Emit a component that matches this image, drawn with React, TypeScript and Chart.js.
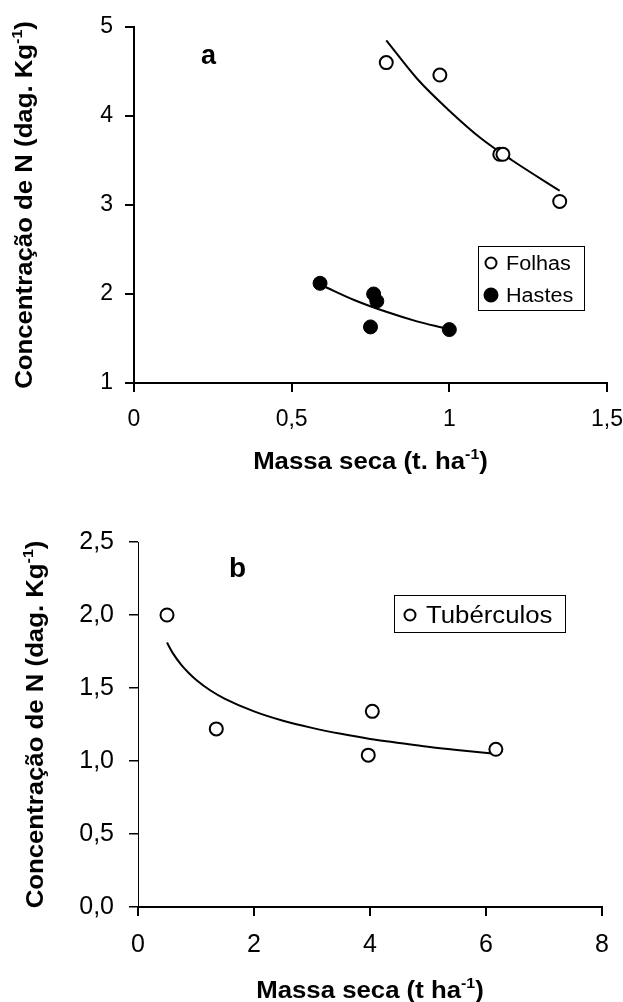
import React, { useEffect, useRef } from 'react';
import { Chart, registerables } from 'chart.js';

Chart.register(...registerables);

// ---------- Panel a data ----------
const folhasX = [0.80, 0.97, 1.16, 1.17, 1.35];
const folhasY = [4.60, 4.46, 3.57, 3.57, 3.04];
const hastesX = [0.59, 0.76, 0.77, 0.75, 1.00];
const hastesY = [2.12, 2.00, 1.92, 1.63, 1.60];
const folhasFitX = [0.80, 0.90, 1.00, 1.10, 1.20, 1.35];
const folhasFitY = [4.85, 4.41, 4.06, 3.75, 3.50, 3.16];
const hastesFitX = [0.60, 0.70, 0.80, 0.90, 0.98];
const hastesFitY = [2.09, 1.93, 1.80, 1.69, 1.62];
const aXTicks = [0, 0.5, 1, 1.5];
const aYTicks = [1, 2, 3, 4, 5];

// ---------- Panel b data ----------
const tuberX = [0.50, 1.35, 4.04, 3.97, 6.17];
const tuberY = [2.00, 1.22, 1.34, 1.04, 1.08];
const tuberFitX = [0.50, 0.60, 0.75, 0.875, 1.00, 1.25, 1.50, 2.00, 2.50, 3.00, 3.50, 4.00, 4.50, 5.00, 5.50, 6.15];
const tuberFitY = [1.811, 1.739, 1.657, 1.603, 1.557, 1.483, 1.426, 1.340, 1.276, 1.227, 1.186, 1.151, 1.124, 1.098, 1.076, 1.050];
const bXTicks = [0, 2, 4, 6, 8];
const bYTicks = [0, 0.5, 1, 1.5, 2, 2.5];

const FONT = "'Liberation Sans', Arial, Helvetica, sans-serif";
Chart.defaults.font.family = FONT;
Chart.defaults.color = '#000';

const pts = (xs: number[], ys: number[]) => xs.map((x, i) => ({ x, y: ys[i] }));
const comma = (v: number) => String(v).replace('.', ',');
const comma1 = (v: number) => v.toFixed(1).replace('.', ',');

type Part = { t: string; sup?: boolean };

function drawRich(ctx: CanvasRenderingContext2D, parts: Part[], size: number, bold: boolean,
  stretch: number, x: number, y: number, rotate: boolean, center: boolean) {
  ctx.save();
  ctx.translate(x, y);
  if (rotate) ctx.rotate(-Math.PI / 2);
  ctx.scale(stretch, 1);
  const w = bold ? 'bold ' : '';
  const supSize = size * 0.62;
  let total = 0;
  const widths = parts.map(p => {
    ctx.font = `${w}${p.sup ? supSize : size}px ${FONT}`;
    const m = ctx.measureText(p.t).width;
    total += m;
    return m;
  });
  let cx = center ? -total / 2 : 0;
  ctx.fillStyle = '#000';
  ctx.textBaseline = 'alphabetic';
  ctx.textAlign = 'left';
  parts.forEach((p, i) => {
    ctx.font = `${w}${p.sup ? supSize : size}px ${FONT}`;
    ctx.fillText(p.t, cx, p.sup ? -size * 0.42 : 0);
    cx += widths[i];
  });
  ctx.restore();
}

type LegendItem = { label: string; fill: string; r: number; x: number; y: number };
type Deco = {
  yTitle: Part[]; yTitleX: number;
  xTitle: Part[]; xTitleY: number;
  titleSize: number; titleStretch: number;
  letter: string; letterX: number; letterY: number; letterSize: number;
  box: [number, number, number, number];
  items: LegendItem[]; textX: number; legendSize: number; legendStretch: number;
};

function decoPlugin(d: Deco) {
  return {
    id: 'deco',
    afterDraw(chart: any) {
      const ctx: CanvasRenderingContext2D = chart.ctx;
      const ca = chart.chartArea;
      drawRich(ctx, d.yTitle, d.titleSize, true, d.titleStretch, d.yTitleX, (ca.top + ca.bottom) / 2, true, true);
      drawRich(ctx, d.xTitle, d.titleSize, true, d.titleStretch, (ca.left + ca.right) / 2, d.xTitleY, false, true);
      drawRich(ctx, [{ t: d.letter }], d.letterSize, true, 1, d.letterX, d.letterY, false, false);
      // legend box
      ctx.save();
      ctx.strokeStyle = '#000';
      ctx.lineWidth = 1;
      const [bx, by, bw, bh] = d.box;
      ctx.fillStyle = '#fff';
      ctx.fillRect(bx, by, bw, bh);
      ctx.strokeRect(bx + 0.5, by + 0.5, bw, bh);
      d.items.forEach(it => {
        ctx.beginPath();
        ctx.arc(it.x, it.y, it.r, 0, Math.PI * 2);
        ctx.fillStyle = it.fill;
        ctx.fill();
        ctx.lineWidth = 2;
        ctx.strokeStyle = '#000';
        ctx.stroke();
        drawRich(ctx, [{ t: it.label }], d.legendSize, false, d.legendStretch, d.textX, it.y + d.legendSize * 0.36, false, false);
      });
      ctx.restore();
    },
  };
}

function makeScales(o: {
  xmin: number; xmax: number; xticks: number[]; xfmt: (v: number) => string;
  ymin: number; ymax: number; yticks: number[]; yfmt: (v: number) => string;
  yWidth: number; xHeight: number; tickSize: number; xPad: number; yPad: number;
  xBorder: number; yBorder: number; yGrid: number;
}) {
  return {
    x: {
      type: 'linear', min: o.xmin, max: o.xmax,
      afterBuildTicks: (s: any) => { s.ticks = o.xticks.map(v => ({ value: v })); },
      afterFit: (s: any) => { s.height = o.xHeight; s.paddingLeft = 0; s.paddingRight = 0; },
      ticks: { callback: (v: any) => o.xfmt(Number(v)), font: { size: o.tickSize }, color: '#000', padding: o.xPad, maxRotation: 0, autoSkip: false },
      grid: { drawOnChartArea: false, drawTicks: true, tickLength: 9, color: '#000', lineWidth: 2 },
      border: { display: true, color: '#000', width: o.xBorder },
    },
    y: {
      type: 'linear', min: o.ymin, max: o.ymax,
      afterBuildTicks: (s: any) => { s.ticks = o.yticks.map(v => ({ value: v })); },
      afterFit: (s: any) => { s.width = o.yWidth; s.paddingTop = 0; s.paddingBottom = 0; },
      ticks: { callback: (v: any) => o.yfmt(Number(v)), font: { size: o.tickSize }, color: '#000', padding: o.yPad, autoSkip: false },
      grid: { drawOnChartArea: false, drawTicks: true, tickLength: 9, color: '#000', lineWidth: o.yGrid },
      border: { display: true, color: '#000', width: o.yBorder },
    },
  };
}

const openPt = (label: string, data: any[], r: number) => ({
  label, data, showLine: false, pointRadius: r, pointHoverRadius: r,
  pointBackgroundColor: '#fff', pointBorderColor: '#000', pointBorderWidth: 2, order: 0,
});
const fillPt = (label: string, data: any[], r: number) => ({
  label, data, showLine: false, pointRadius: r, pointHoverRadius: r,
  pointBackgroundColor: '#000', pointBorderColor: '#000', pointBorderWidth: 1, order: 0,
});
const fitLine = (label: string, data: any[]) => ({
  label, data, showLine: true, pointRadius: 0, borderColor: '#000', borderWidth: 2,
  cubicInterpolationMode: 'monotone', fill: false, order: 1,
});

function configA() {
  return {
    type: 'scatter',
    data: {
      datasets: [
        openPt('Folhas', pts(folhasX, folhasY), 6.5),
        fillPt('Hastes', pts(hastesX, hastesY), 7),
        fitLine('Folhas ajuste', pts(folhasFitX, folhasFitY)),
        fitLine('Hastes ajuste', pts(hastesFitX, hastesFitY)),
      ],
    },
    options: {
      animation: false, responsive: true, maintainAspectRatio: false,
      layout: { padding: { top: 27, right: 16, left: 0, bottom: 0 } },
      plugins: { legend: { display: false }, tooltip: { enabled: false } },
      scales: makeScales({
        xmin: 0, xmax: 1.5, xticks: aXTicks, xfmt: comma,
        ymin: 1, ymax: 5, yticks: aYTicks, yfmt: comma,
        yWidth: 134, xHeight: 107, tickSize: 23, xPad: 14, yPad: 12,
        xBorder: 2, yBorder: 2, yGrid: 2,
      }),
    },
    plugins: [decoPlugin({
      yTitle: [{ t: 'Concentração de N (dag. Kg' }, { t: '-1', sup: true }, { t: ')' }], yTitleX: 32,
      xTitle: [{ t: 'Massa seca (t. ha' }, { t: '-1', sup: true }, { t: ')' }], xTitleY: 469,
      titleSize: 23, titleStretch: 1.12,
      letter: 'a', letterX: 201, letterY: 64, letterSize: 27,
      box: [478, 246, 106, 64],
      items: [
        { label: 'Folhas', fill: '#fff', r: 5.5, x: 491, y: 263 },
        { label: 'Hastes', fill: '#000', r: 6.5, x: 491, y: 295 },
      ],
      textX: 506, legendSize: 20, legendStretch: 1.08,
    })],
  };
}

function configB() {
  return {
    type: 'scatter',
    data: {
      datasets: [
        openPt('Tubérculos', pts(tuberX, tuberY), 6.5),
        fitLine('Tubérculos ajuste', pts(tuberFitX, tuberFitY)),
      ],
    },
    options: {
      animation: false, responsive: true, maintainAspectRatio: false,
      layout: { padding: { top: 52, right: 21, left: 0, bottom: 0 } },
      plugins: { legend: { display: false }, tooltip: { enabled: false } },
      scales: makeScales({
        xmin: 0, xmax: 8, xticks: bXTicks, xfmt: comma,
        ymin: 0, ymax: 2.5, yticks: bYTicks, yfmt: comma1,
        yWidth: 138, xHeight: 95, tickSize: 25, xPad: 14, yPad: 15,
        xBorder: 2, yBorder: 1, yGrid: 1.5,
      }),
    },
    plugins: [decoPlugin({
      yTitle: [{ t: 'Concentração de N (dag. Kg' }, { t: '-1', sup: true }, { t: ')' }], yTitleX: 43,
      xTitle: [{ t: 'Massa seca (t ha' }, { t: '-1', sup: true }, { t: ')' }], xTitleY: 508,
      titleSize: 23, titleStretch: 1.12,
      letter: 'b', letterX: 229, letterY: 87, letterSize: 28,
      box: [394, 105, 171, 37],
      items: [{ label: 'Tubérculos', fill: '#fff', r: 5.5, x: 410, y: 125 }],
      textX: 426, legendSize: 23, legendStretch: 1.12,
    })],
  };
}

function Panel({ top, height, make }: { top: number; height: number; make: () => any }) {
  const ref = useRef<HTMLCanvasElement>(null);
  useEffect(() => {
    const chart = new Chart(ref.current as HTMLCanvasElement, make());
    return () => chart.destroy();
  }, []);
  return (
    <div style={{ position: 'absolute', left: 0, top, width: 623, height }}>
      <canvas ref={ref} />
    </div>
  );
}

export default function App() {
  return (
    <div style={{ position: 'fixed', left: 0, top: 0, width: 623, height: 1002, background: '#fff' }}>
      <Panel top={0} height={490} make={configA} />
      <Panel top={490} height={512} make={configB} />
    </div>
  );
}
